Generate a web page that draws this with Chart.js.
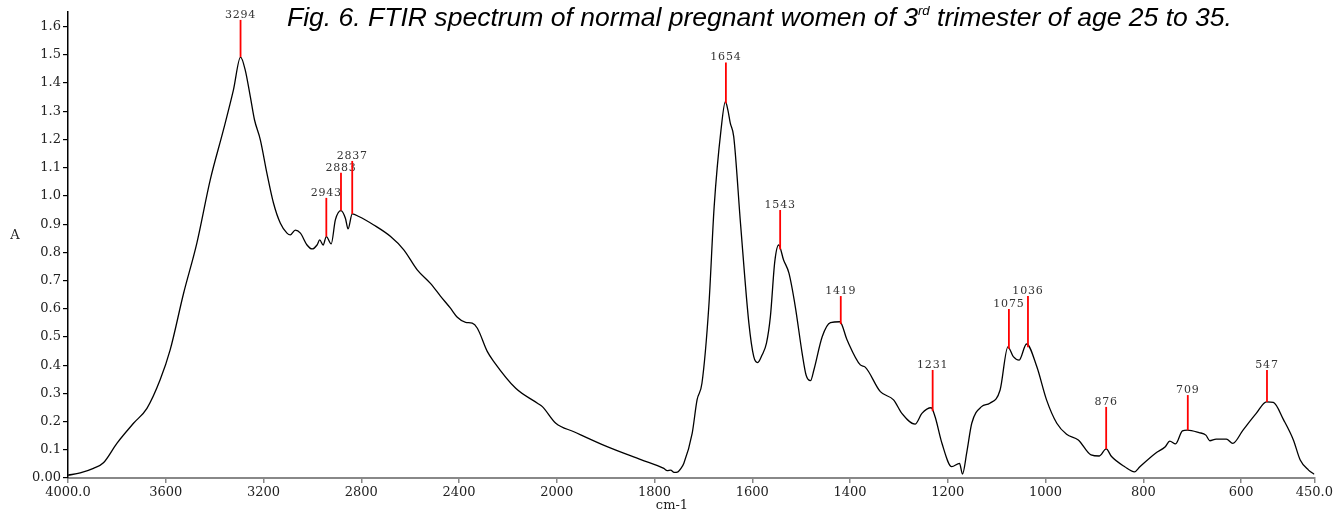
<!DOCTYPE html>
<html>
<head>
<meta charset="utf-8">
<script src="https://cdn.jsdelivr.net/npm/chart.js@4"></script>
<style>
  html, body { margin: 0; padding: 0; background: #fff; }
  #wrap { position: relative; width: 1335px; height: 514px; overflow: hidden; }
  #chart { position: absolute; left: 0; top: 0; }
  #title {
    position: absolute; left: 287px; top: 4px; white-space: nowrap;
    font-family: "Liberation Sans", Arial, sans-serif; font-style: italic;
    font-size: 26px; line-height: 26px; color: #000; transform-origin: 0 0;
  }
  #title sup { font-size: 13px; vertical-align: 0; position: relative; top: -11px; }
</style>
</head>
<body>
<div id="wrap">
  <canvas id="chart" width="1335" height="514"></canvas>
  <div id="title">Fig. 6. FTIR spectrum of normal pregnant women of 3<sup>rd</sup> trimester of age 25 to 35.</div>
</div>
<script>
// ---- data ----
const wavenumbers = [4000,3950,3896,3855,3800,3732,3677,3623,3582,3527,3473,3418,3364,3323,3294,3275,3254,3237,3213,3186,3159,3131,3104,3090,3070,3049,3022,3001,2981,2970,2956,2943,2923,2906,2883,2865,2854,2837,2810,2749,2680,2626,2571,2517,2476,2435,2407,2373,2346,2325,2284,2257,2168,2079,2059,2004,1965,1897,1828,1781,1774,1767,1760,1752,1746,1740,1723,1713,1703,1689,1678,1664,1655,1650,1645,1638,1624,1607,1597,1589,1580,1571,1563,1554,1546,1536,1525,1512,1498,1490,1481,1474,1457,1440,1421,1406,1379,1369,1338,1311,1294,1267,1253,1234,1226,1212,1192,1176,1170,1161,1151,1131,1114,1093,1077,1066,1054,1039,1018,998,977,957,933,907,890,876,865,838,818,807,775,755,746,734,720,710,686,672,664,651,630,617,596,569,548,534,513,493,479,462,450];
const absorbance  = [0.010,0.018,0.034,0.054,0.123,0.194,0.247,0.348,0.454,0.655,0.832,1.057,1.234,1.376,1.492,1.447,1.352,1.270,1.199,1.080,0.974,0.903,0.868,0.862,0.879,0.868,0.826,0.812,0.826,0.844,0.826,0.856,0.830,0.915,0.948,0.921,0.883,0.936,0.927,0.897,0.856,0.809,0.738,0.690,0.645,0.602,0.570,0.552,0.549,0.531,0.448,0.412,0.318,0.265,0.253,0.194,0.164,0.111,0.065,0.034,0.026,0.028,0.020,0.022,0.034,0.052,0.158,0.277,0.336,0.607,0.962,1.234,1.334,1.305,1.258,1.210,0.900,0.549,0.430,0.409,0.436,0.478,0.572,0.767,0.826,0.773,0.726,0.607,0.442,0.365,0.345,0.383,0.501,0.551,0.554,0.489,0.401,0.393,0.306,0.277,0.229,0.191,0.229,0.249,0.217,0.123,0.040,0.052,0.014,0.093,0.194,0.253,0.265,0.312,0.465,0.430,0.418,0.475,0.395,0.277,0.194,0.155,0.135,0.082,0.078,0.103,0.076,0.040,0.022,0.040,0.088,0.111,0.131,0.121,0.167,0.170,0.161,0.152,0.132,0.138,0.138,0.123,0.170,0.229,0.270,0.268,0.206,0.135,0.064,0.028,0.013];

const xTickValues = [4000,3600,3200,2800,2400,2000,1800,1600,1400,1200,1000,800,600,450];
const xTickLabels = ["4000.0","3600","3200","2800","2400","2000","1800","1600","1400","1200","1000","800","600","450.0"];
const yTickValues = [0,0.1,0.2,0.3,0.4,0.5,0.6,0.7,0.8,0.9,1.0,1.1,1.2,1.3,1.4,1.5,1.6];
const yTickLabels = ["0.00","0.1","0.2","0.3","0.4","0.5","0.6","0.7","0.8","0.9","1.0","1.1","1.2","1.3","1.4","1.5","1.6"];

const peakWavenumbers = [3294,2943,2883,2837,1654,1543,1419,1231,1075,1036,876,709,547];
const peakLabels = ["3294","2943","2883","2837","1654","1543","1419","1231","1075","1036","876","709","547"];
const peakStickTop = [1.624,0.993,1.082,1.124,1.473,0.950,0.645,0.383,0.599,0.645,0.252,0.294,0.383];

const xTitle = "cm-1";
const yTitle = "A";

// FTIR plots use a doubled scale below 2000 cm-1
function u(w) { return w >= 2000 ? 4000 - w : 2000 + 2 * (2000 - w); }
function interpA(w) {
  for (let i = 0; i < wavenumbers.length - 1; i++) {
    const a = wavenumbers[i], b = wavenumbers[i + 1];
    if (w <= a && w >= b) {
      const t = (a - w) / (a - b);
      return absorbance[i] + t * (absorbance[i + 1] - absorbance[i]);
    }
  }
  return 0;
}

const points = wavenumbers.map((w, i) => ({ x: u(w), y: absorbance[i] }));

const peakPlugin = {
  id: 'peaks',
  afterDatasetsDraw(chart) {
    const ctx = chart.ctx, xs = chart.scales.x, ys = chart.scales.y;
    ctx.save();
    peakWavenumbers.forEach((w, i) => {
      const px = xs.getPixelForValue(u(w));
      const yb = ys.getPixelForValue(interpA(w));
      const yt = ys.getPixelForValue(peakStickTop[i]);
      ctx.strokeStyle = '#ff0000';
      ctx.lineWidth = 1.8;
      ctx.beginPath();
      ctx.moveTo(px, yb);
      ctx.lineTo(px, yt);
      ctx.stroke();
      ctx.fillStyle = '#333';
      ctx.font = '11px "DejaVu Serif", serif';
      try { ctx.letterSpacing = '0.8px'; } catch (e) {}
      ctx.textAlign = 'center';
      ctx.textBaseline = 'alphabetic';
      ctx.fillText(peakLabels[i], px, yt - 2);
    });
    try { ctx.letterSpacing = '0px'; } catch (e) {}
    ctx.fillStyle = '#222';
    ctx.font = '13px "DejaVu Serif", serif';
    ctx.textAlign = 'center';
    ctx.textBaseline = 'middle';
    ctx.fillText(yTitle, 15, 236);
    ctx.fillText(xTitle, 672, 506);
    ctx.restore();
  }
};

new Chart(document.getElementById('chart'), {
  type: 'line',
  data: {
    datasets: [{
      data: points,
      borderColor: '#000',
      borderWidth: 1.3,
      pointRadius: 0,
      fill: false,
      tension: 0,
      cubicInterpolationMode: 'monotone'
    }]
  },
  plugins: [peakPlugin],
  options: {
    responsive: false,
    animation: false,
    events: [],
    layout: { padding: { top: 12, right: 20, left: 0, bottom: 0 } },
    plugins: { legend: { display: false }, tooltip: { enabled: false }, title: { display: false } },
    scales: {
      x: {
        type: 'linear', min: 0, max: u(450),
        afterBuildTicks(scale) { scale.ticks = xTickValues.map(w => ({ value: u(w) })); },
        afterFit(scale) { scale.height = 36; },
        ticks: {
          autoSkip: false, maxRotation: 0, padding: 2, color: '#222',
          font: { family: '"DejaVu Serif", serif', size: 13 },
          callback: (v, i) => xTickLabels[i]
        },
        grid: { drawOnChartArea: false, drawTicks: true, tickLength: 5, color: '#888', lineWidth: 1.5 },
        border: { display: true, color: '#888', width: 2 }
      },
      y: {
        type: 'linear', min: 0, max: 1.652,
        afterBuildTicks(scale) { scale.ticks = yTickValues.map(v => ({ value: v })); },
        afterFit(scale) { scale.width = 68; },
        ticks: {
          autoSkip: false, padding: 2, color: '#222',
          font: { family: '"DejaVu Serif", serif', size: 13 },
          callback: (v, i) => yTickLabels[i]
        },
        grid: { drawOnChartArea: false, drawTicks: true, tickLength: 5, color: '#000', lineWidth: 1.2 },
        border: { display: true, color: '#000', width: 1.5 }
      }
    }
  }
});

// condense the title to its width in the figure
(function () {
  const t = document.getElementById('title');
  const w = t.getBoundingClientRect().width;
  t.style.transform = 'scaleX(' + (945 / w) + ')';
})();
</script>
</body>
</html>
